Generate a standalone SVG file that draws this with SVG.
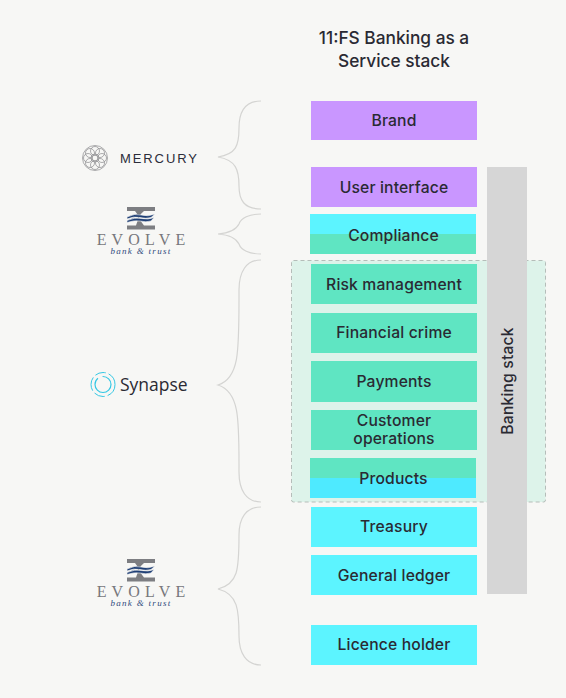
<svg xmlns="http://www.w3.org/2000/svg" width="566" height="698" viewBox="0 0 566 698">
<style>
.l{font-family:"Inter","Open Sans","Liberation Sans",sans-serif;font-size:15.700px;letter-spacing:.15px;font-weight:500;fill:#2a2a33;text-anchor:middle}
.t{font-family:"Inter","Open Sans","Liberation Sans",sans-serif;font-size:17.300px;font-weight:500;fill:#2a2a33;text-anchor:middle}
.p{fill:#c996ff}.c{fill:#5cf4ff}.g{fill:#5fe5c2}
.b{fill:none;stroke:#d4d4d2;stroke-width:1.2}
.ev{font-family:"Liberation Serif",serif;font-size:16px;fill:#77787c;text-anchor:middle}
.bt{font-family:"Liberation Serif",serif;font-size:9px;font-style:italic;fill:#2f4a7c;text-anchor:middle}
.lg{fill:none;stroke:#8a8a8c;stroke-width:.7}
.w{fill:#1f3f75;stroke:#f7f7f5;stroke-width:.6}
</style>
<defs>
<g id="evolve">
<path d="M-14 -21H14V-17H3Q-1 -14 -2 -10.500Q-1 -7 3 -2.500H14V1.500H-14V-2.500H-5Q-3 -7 -3 -10.500Q-3 -14 -6 -17H-14Z" fill="#7d7e82"/>
<path class="w" d="M-14 -11Q-6 -15 0 -13Q7 -11 14 -14L10 -10.500Q5 -9 -1 -10.500Q-7 -12 -14 -9Z"/>
<path class="w" d="M-14 -7.500Q-6 -11 0 -9.500Q7 -8 13 -10.500L10 -7Q5 -5.500 -1 -7Q-7 -8 -14 -5.500Z"/>
<text class="ev" x="2.500" y="17" letter-spacing="5.200">EVOLVE</text>
<text class="bt" x="0" y="26" letter-spacing="1.300">bank &amp; trust</text>
</g>
</defs>
<rect width="566" height="698" fill="#f7f7f5"/>
<g id="title"><text class="t" x="394" y="44">11:FS Banking as a</text><text class="t" x="394" y="67">Service stack</text></g>
<g id="synapse-zone"><rect x="291.500" y="260.500" width="254" height="241.500" rx="2" fill="#ddf3ea" stroke="#b5bdb9" stroke-width="1" stroke-dasharray="4 3"/></g>
<g id="brand"><rect class="p" x="311" y="101" width="166" height="39"/><text class="l" x="394" y="126">Brand</text></g>
<g id="user-interface"><rect class="p" x="311" y="167" width="166" height="40"/><text class="l" x="394" y="193">User interface</text></g>
<g id="compliance"><rect class="c" x="310" y="214" width="166" height="20"/><rect class="g" x="310" y="234" width="166" height="20"/><text class="l" x="393.500" y="241">Compliance</text></g>
<g id="risk-management"><rect class="g" x="311" y="264" width="166" height="40"/><text class="l" x="394" y="290">Risk management</text></g>
<g id="financial-crime"><rect class="g" x="311" y="313" width="166" height="40"/><text class="l" x="394" y="338">Financial crime</text></g>
<g id="payments"><rect class="g" x="311" y="361" width="166" height="41"/><text class="l" x="394" y="387">Payments</text></g>
<g id="customer-operations"><rect class="g" x="311" y="410" width="166" height="40"/><text class="l"><tspan x="394" y="426">Customer</tspan><tspan x="394" y="444">operations</tspan></text></g>
<g id="products"><rect class="g" x="310" y="458" width="166" height="20"/><rect x="310" y="478" width="166" height="20" fill="#4eeaff"/><text class="l" x="393.500" y="484">Products</text></g>
<g id="treasury"><rect class="c" x="311" y="507" width="166" height="40"/><text class="l" x="394" y="532">Treasury</text></g>
<g id="general-ledger"><rect class="c" x="311" y="555" width="166" height="40"/><text class="l" x="394" y="581">General ledger</text></g>
<g id="licence-holder"><rect class="c" x="311" y="625" width="166" height="40"/><text class="l" x="394" y="650">Licence holder</text></g>
<g id="banking-stack"><rect x="487" y="167" width="40" height="427" fill="#d6d6d6"/><text class="l" transform="translate(513 381) rotate(-90)">Banking stack</text></g>
<g id="connectors">
<path class="b" d="M261 101C244 101 239 113 239 128C239 146 236 154 218 157C236 160 239 170 239 186C239 200 244 209 261 209"/>
<path class="b" d="M261 214C249 214 241 218 239 224C236 230 230 233 218 234C230 235 236 238 239 244C241 250 249 254 261 254"/>
<path class="b" d="M261 260C246 260 239 272 239 290C239 350 240 378 218 385C240 392 239 420 239 472C239 490 246 502 261 502"/>
<path class="b" d="M261 507C246 507 239 518 239 535C239 570 238 584 218 589C238 594 239 610 239 636C239 653 246 665 261 665"/>
</g>
<g id="mercury">
<circle class="lg" cx="95" cy="158" r="12.500"/><circle class="lg" cx="95" cy="158" r="4"/>
<circle class="lg" cx="95" cy="151" r="4.500"/><circle class="lg" cx="95" cy="165" r="4.500"/><circle class="lg" cx="88" cy="158" r="4.500"/><circle class="lg" cx="102" cy="158" r="4.500"/>
<circle class="lg" cx="90" cy="153" r="4.500"/><circle class="lg" cx="100" cy="153" r="4.500"/><circle class="lg" cx="90" cy="163" r="4.500"/><circle class="lg" cx="100" cy="163" r="4.500"/>
<text x="120" y="163" font-family="'Liberation Sans',sans-serif" font-size="13" letter-spacing="1.900" fill="#2c2d3a">MERCURY</text>
</g>
<g id="evolve-top"><use href="#evolve" x="141" y="228"/></g>
<g id="synapse">
<circle cx="103" cy="384.500" r="12" fill="none" stroke="#35c8e4" stroke-width="1" stroke-dasharray="14 3 11 3"/>
<circle cx="103" cy="384.500" r="8" fill="none" stroke="#35c8e4" stroke-width="1.200" stroke-dasharray="32 5"/>
<text x="120" y="391" font-family="'Open Sans','Liberation Sans',sans-serif" font-size="17.500px" fill="#2a2a33">Synapse</text>
</g>
<g id="evolve-bottom"><use href="#evolve" x="141" y="580"/></g>
</svg>
